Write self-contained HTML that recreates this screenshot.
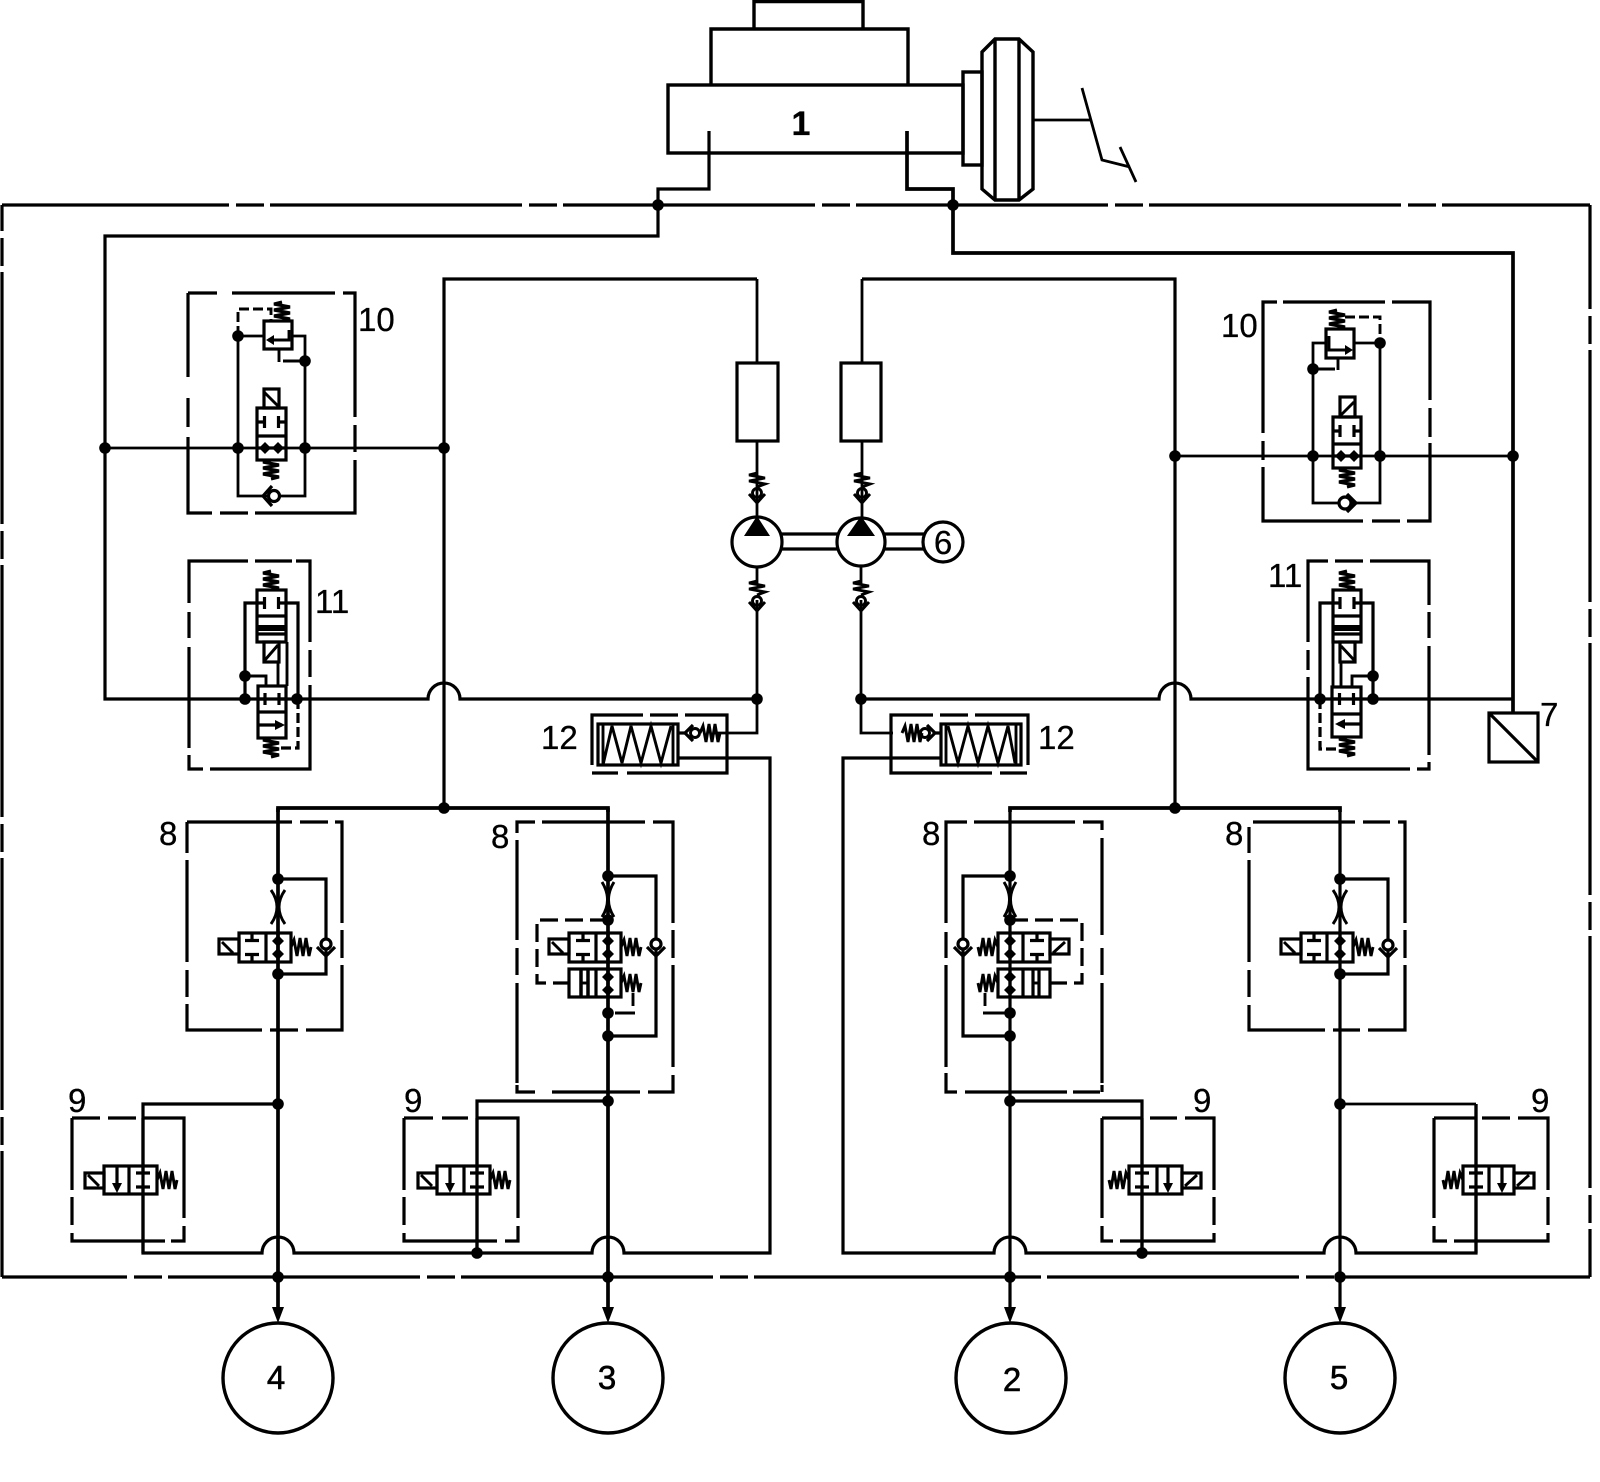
<!DOCTYPE html>
<html><head><meta charset="utf-8"><style>
html,body{margin:0;padding:0;background:#fff}
svg{display:block}
text{font-family:"Liberation Sans",sans-serif;font-size:33px;fill:#000;stroke:#000;stroke-width:.3}
.l{fill:none;stroke:#000;stroke-width:3.2;stroke-linejoin:miter}
.m{fill:none;stroke:#000;stroke-width:3.7}
.t{fill:none;stroke:#000;stroke-width:2.8}
.s{fill:none;stroke:#000;stroke-width:2.9}
.w{fill:#fff;stroke:#000;stroke-width:3.2}
.b{fill:none;stroke:#000;stroke-width:3.4}
.k{fill:#000;stroke:none}
</style></head><body>
<svg width="1600" height="1482" viewBox="0 0 1600 1482" xmlns="http://www.w3.org/2000/svg">
<defs>
<circle id="n" r="5.8" fill="#000"/>
<path id="sh" class="s" d="M0,0 L3,-7 L6,9 L9,-9 L12,9 L15,-9 L18,9 L20,0"/>
<path id="sv" class="l" d="M0,0 L-8,2 L8,5 L-8,8 L8,11 L-8,14 L8,17 L0,19"/>
<path id="tt" class="l" d="M-14,0 H-7 M-7,-6 V6 M14,0 H7 M7,-6 V6"/>
<path id="cap" class="l" d="M-7,-7 H7 M-7,7 H7 M0,-14 V-7 M0,7 V14"/>
<polygon id="dm" class="k" points="-6,0 0,-6 6,0 0,6"/>
<g id="pc"><path class="s" d="M0,-20 L-8,-18 L8,-15 L-8,-12 L8,-9 L0,-6"/><circle class="s" cx="0" cy="0" r="4.5" fill="#fff"/><path class="s" d="M-8,1 L0,10 L8,1"/></g>
<g id="ck"><circle class="l" cx="0" cy="-3" r="5.5"/><path class="l" d="M-9,0 L0,9 L9,0"/></g>
</defs>

<!-- master cylinder -->
<g class="b">
<path class="b" d="M754,29 V1.5 H863 V29"/>
<path class="b" d="M711,85 V29 H908 V85"/>
<rect class="b" x="668" y="85" width="295" height="68"/>
<rect class="b" x="963" y="72" width="19" height="93"/>
<path class="b" d="M982,52 L995,39 H1019 L1033,52 V189 L1019,200 H995 L982,189 Z"/>
<path class="b" d="M995,39 V200 M1019,39 V200"/>
<path class="t" d="M1033,120 H1090"/>
<path class="t" d="M1082,88 L1102,160 L1130,167 M1120,147 L1136,182"/>
</g>
<text x="801" y="135" text-anchor="middle" font-weight="bold" style="font-size:34px">1</text>

<!-- outer dashed frame -->
<g class="l" stroke-dasharray="252 7 28 6">
<path d="M2,205 H1590" stroke-dashoffset="25"/>
<path d="M2,1277 H1590" stroke-dashoffset="127"/>
<path d="M2,205 V1277" stroke-dashoffset="226"/>
<path d="M1590,205 V1277" stroke-dashoffset="148"/>
</g>

<!-- main pipes -->
<path class="l" d="M709,131 V189 H658 V236 H105 V699 H428 A16,16 0 0 1 460,699 H757"/>
<path class="m" d="M907,131 V189 H953 V253 H1513 V713"/>
<path class="l" d="M861,699 H1159 A16,16 0 0 1 1191,699 H1513"/>
<path class="t" d="M757,600 V733 H713"/>
<path class="t" d="M861,600 V733 H893"/>
<path class="t" d="M757,279 V363 M757,441 V520 M757,566 V585"/>
<path class="t" d="M862,279 V363 M862,441 V520 M861,566 V585"/>
<path class="l" d="M757,279 H444 V808"/>
<path class="l" d="M862,279 H1175 V808"/>
<path class="m" d="M278,812 V808 H608 V812"/>
<path class="m" d="M1010,812 V808 H1340 V812"/>
<path class="t" d="M105,448 H444"/>
<path class="t" d="M1175,456 H1513"/>
<path class="m" d="M278,808 V1307"/>
<path class="m" d="M608,808 V1307"/>
<path class="l" d="M1010,808 V1307"/>
<path class="l" d="M1340,808 V1307"/>
<!-- return lines -->
<path class="l" d="M678,758 H770 V1253 H624 A16,16 0 0 0 592,1253 H294 A16,16 0 0 0 262,1253 H143 V1104 H278"/>
<path class="l" d="M477,1253 V1101 H608"/>
<path class="l" d="M941,758 H843 V1253 H994 A16,16 0 0 1 1026,1253 H1324 A16,16 0 0 1 1356,1253 H1476 V1104"/>
<path class="t" d="M1476,1104 H1340"/>
<path class="l" d="M1142,1253 V1101 H1010"/>

<!-- nodes on main -->
<use href="#n" x="658" y="205"/><use href="#n" x="953" y="205"/>
<use href="#n" x="105" y="448"/><use href="#n" x="444" y="448"/>
<use href="#n" x="1175" y="456"/><use href="#n" x="1513" y="456"/>
<use href="#n" x="757" y="699"/><use href="#n" x="861" y="699"/>
<use href="#n" x="444" y="808"/><use href="#n" x="1175" y="808"/>
<use href="#n" x="278" y="1104"/><use href="#n" x="608" y="1101"/><use href="#n" x="1010" y="1101"/><use href="#n" x="1340" y="1104"/>
<use href="#n" x="278" y="1277"/><use href="#n" x="608" y="1277"/><use href="#n" x="1010" y="1277"/><use href="#n" x="1340" y="1277"/>
<use href="#n" x="477" y="1253"/><use href="#n" x="1142" y="1253"/>

<!-- filters & pumps -->
<rect class="w" x="737" y="363" width="41" height="78"/>
<rect class="w" x="841" y="363" width="40" height="78"/>
<use href="#pc" x="757" y="493"/><use href="#pc" x="862" y="493"/>
<use href="#pc" x="757" y="601"/><use href="#pc" x="861" y="601"/>
<path class="l" d="M780,534 H838 M780,549 H838 M884,534 H924 M884,549 H924"/>
<circle class="w" cx="757" cy="542" r="25"/>
<circle class="w" cx="861" cy="542" r="24"/>
<circle class="w" cx="943" cy="542" r="20"/>
<polygon class="k" points="757,516 744,536 770,536"/>
<polygon class="k" points="861,516 847,536 875,536"/>
<text x="943" y="554" text-anchor="middle">6</text>

<!-- 10 left -->
<path class="l" d="M188,293 V377 M188,398 V427 M188,437 V513 H212 M220,513 H248 M255,513 H355 V460 M355,452 V425 M355,417 V293 H343 M335,293 H232 M217,293 H188"/>
<path class="t" d="M238,336 V496 H305 V336 H292 M238,336 H264"/>
<path class="s" d="M238,336 V309 H271 V321" stroke-dasharray="10 4"/>
<path class="s" d="M279,349 V362 M283,361 H305"/>
<use href="#sv" x="282" y="302"/>
<rect class="l" x="264" y="321" width="28" height="28" fill="#fff"/>
<path class="s" d="M289,330 V340 H268"/><polygon class="k" points="266,340 274,335 274,345"/>
<rect class="l" x="264" y="389" width="15" height="19" fill="#fff"/><path class="s" d="M264,392 L279,407"/>
<rect class="l" x="257" y="408" width="29" height="52" fill="#fff"/><path class="l" d="M257,436 H286 M257,448 H286"/>
<use href="#tt" x="271.5" y="422"/><use href="#dm" x="265" y="448"/><use href="#dm" x="278" y="448"/>
<use href="#sv" x="271" y="460"/>
<circle class="w" cx="274" cy="496" r="5.5"/><path class="l" d="M272,486 L263,496 L272,506"/>
<use href="#n" x="238" y="336"/><use href="#n" x="305" y="361"/><use href="#n" x="238" y="448"/><use href="#n" x="305" y="448"/>
<text x="358" y="331">10</text>

<!-- 10 right -->
<path class="l" d="M1263,433 V302 H1277 M1283,302 H1385 M1392,302 H1430 V400 M1430,408 V437 M1430,443 V521 H1407 M1400,521 H1372 M1363,521 H1263 V467 M1263,460 V441"/>
<path class="t" d="M1326,343 H1313 V503 H1380 V343 H1354"/>
<path class="s" d="M1345,317 H1380 V343" stroke-dasharray="10 4"/>
<path class="s" d="M1338,358 V370 M1313,369 H1335"/>
<use href="#sv" x="1337" y="310"/>
<rect class="l" x="1326" y="329" width="28" height="29" fill="#fff"/>
<path class="s" d="M1329,336 V350 H1350"/><polygon class="k" points="1353,350 1345,345 1345,355"/>
<rect class="l" x="1340" y="397" width="15" height="20" fill="#fff"/><path class="s" d="M1341,415 L1354,402"/>
<rect class="l" x="1333" y="417" width="28" height="51" fill="#fff"/><path class="l" d="M1333,444 H1361 M1333,456 H1361"/>
<use href="#tt" x="1347" y="431"/><use href="#dm" x="1341" y="456"/><use href="#dm" x="1354" y="456"/>
<use href="#sv" x="1347" y="468"/>
<circle class="w" cx="1345" cy="503" r="6"/><path class="l" d="M1347,494 L1356,503 L1347,512"/>
<use href="#n" x="1313" y="369"/><use href="#n" x="1380" y="343"/><use href="#n" x="1313" y="456"/><use href="#n" x="1380" y="456"/>
<text x="1221" y="337">10</text>

<!-- 11 left -->
<path class="l" d="M189,603 V561 H248 M255,561 H292 M296,561 H310 V642 M310,650 V677 M310,685 V769 H210 M203,769 H189 V755 M189,748 V647 M189,638 V612"/>
<path class="l" d="M257,603 H245 V699 M286,603 H298 V699"/>
<path class="l" d="M298,699 V748 H280" stroke-dasharray="10 4"/>
<path class="s" d="M245,676 H266 V686 M278,662 V686 M287,642 V686"/>
<use href="#sv" x="271" y="571"/>
<rect class="l" x="257" y="590" width="29" height="52" fill="#fff"/>
<path class="l" d="M257,616 H286 M257,634 H286"/><path d="M257,628 H286" stroke="#000" stroke-width="6"/>
<use href="#tt" x="271.5" y="603"/>
<rect class="l" x="264" y="642" width="15" height="20" fill="#fff"/><path class="s" d="M265,660 L278,645"/>
<rect class="l" x="258" y="686" width="28" height="52" fill="#fff"/><path class="l" d="M258,712 H286 M258,725 H282"/>
<polygon class="k" points="285,725 275,720 275,730"/>
<use href="#tt" x="272" y="699"/>
<use href="#sv" x="271" y="738"/>
<use href="#n" x="245" y="699"/><use href="#n" x="245" y="676"/><use href="#n" x="297" y="699"/>
<text x="315" y="613">11</text>

<!-- 11 right -->
<path class="l" d="M1308,642 V561 H1328 M1335,561 H1363 M1370,561 H1429 V605 M1429,612 V638 M1429,646 V755 M1429,762 V769 H1417 M1410,769 H1308 V677 M1308,670 V650"/>
<path class="l" d="M1333,603 H1320 V699 M1361,603 H1373 V699"/>
<path class="l" d="M1320,699 V749 H1336" stroke-dasharray="10 4"/>
<path class="s" d="M1373,676 H1352 V686 M1341,662 V686 M1333,642 V686"/>
<use href="#sv" x="1347" y="571"/>
<rect class="l" x="1333" y="590" width="28" height="52" fill="#fff"/>
<path class="l" d="M1333,616 H1361 M1333,634 H1361"/><path d="M1333,628 H1361" stroke="#000" stroke-width="6"/>
<use href="#tt" x="1347" y="603"/>
<rect class="l" x="1340" y="642" width="15" height="20" fill="#fff"/><path class="s" d="M1341,646 L1354,660"/>
<rect class="l" x="1332" y="687" width="29" height="50" fill="#fff"/><path class="l" d="M1332,714 H1361 M1338,724 H1361"/>
<polygon class="k" points="1335,724 1345,719 1345,729"/>
<use href="#tt" x="1346.5" y="699"/>
<use href="#sv" x="1347" y="737"/>
<use href="#n" x="1320" y="699"/><use href="#n" x="1373" y="699"/><use href="#n" x="1373" y="676"/>
<text x="1268" y="587">11</text>

<!-- 7 -->
<rect class="l" x="1489" y="713" width="49" height="49" fill="#fff"/><path class="l" d="M1489,713 L1538,762"/>
<text x="1540" y="726">7</text>

<!-- 12 left -->
<path class="l" d="M592,765 V715 H643 M650,715 H678 M685,715 H727 V773 H627 M618,773 H592"/>
<rect class="l" x="598" y="724" width="80" height="41" fill="#fff"/>
<path class="s" d="M603,724 V765 M673,724 V765 M603,765 L612,726 L622,763 L631,726 L641,763 L651,726 L661,763 L671,726"/>
<path class="l" d="M678,733 H685"/>
<circle class="s" cx="695" cy="733" r="4.5"/><path class="l" d="M693,725 L685,733 L693,741"/>
<use href="#sh" x="700" y="733"/>
<path class="l" d="M678,758 H680"/>
<text x="541" y="749">12</text>

<!-- 12 right -->
<path class="l" d="M1028,765 V715 H975 M968,715 H940 M933,715 H891 V773 H992 M1000,773 H1027"/>
<rect class="l" x="941" y="724" width="80" height="41" fill="#fff"/>
<path class="s" d="M946,724 V765 M1016,724 V765 M948,726 L958,763 L968,726 L978,763 L988,726 L998,763 L1008,726 L1015,763"/>
<use href="#sh" x="902" y="733"/>
<circle class="s" cx="925" cy="733" r="4.5"/><path class="l" d="M927,725 L935,733 L927,741 M935,733 H941"/>
<text x="1038" y="749">12</text>

<!-- 8 A -->
<path class="l" d="M187,822 H292 M300,822 H328 M335,822 H342 V923 M342,930 V958 M342,965 V1030 H306 M298,1030 H270 M262,1030 H187 V1004 M187,997 V970 M187,962 V860 M187,853 V822"/>
<path class="l" d="M278,879 H326 V974 H278"/>
<path class="s" d="M271,890 Q283,907 271,924 M285,890 Q273,907 285,924"/>
<rect class="l" x="239" y="933" width="52" height="29" fill="#fff"/><path class="l" d="M266,933 V962 M278,933 V962"/>
<rect class="l" x="219" y="939" width="20" height="15" fill="#fff"/><path class="s" d="M222,942 L233,953"/>
<use href="#cap" x="252" y="947.5"/><use href="#dm" x="278" y="941"/><use href="#dm" x="278" y="954"/>
<use href="#sh" x="291" y="947"/>
<circle class="w" cx="326" cy="944" r="5"/><path class="l" d="M317,947 L326,956 L335,947"/>
<use href="#n" x="278" y="879"/><use href="#n" x="278" y="974"/>
<text x="159" y="845">8</text>

<!-- 8 B -->
<path class="l" d="M517,833 V822 H535 M542,822 H645 M653,822 H673 V923 M673,930 V958 M673,965 V1067 M673,1075 V1092 H648 M640,1092 H552 M535,1092 H517 V1085 M517,1083 V983 M517,975 V948 M517,940 V840"/>
<path class="l" d="M608,876 H656 V1036 H608"/>
<path class="s" d="M602,882 Q613,900 602,917 M614,882 Q603,900 614,917"/>
<path class="l" d="M608,920 H537 V983 H569" stroke-dasharray="18 7"/>
<rect class="l" x="569" y="933" width="52" height="29" fill="#fff"/><path class="l" d="M596,933 V962 M608,933 V962"/>
<rect class="l" x="549" y="939" width="20" height="15" fill="#fff"/><path class="s" d="M552,942 L563,953"/>
<use href="#cap" x="583" y="947.5"/><use href="#dm" x="608" y="941"/><use href="#dm" x="608" y="954"/>
<use href="#sh" x="621" y="947"/>
<rect class="l" x="569" y="969" width="52" height="28" fill="#fff"/><path class="l" d="M596,969 V997 M608,969 V997"/>
<path d="M581,969 V997 M588,969 V997" stroke="#000" stroke-width="3.5"/><path class="s" d="M581,983 H588"/>
<use href="#dm" x="608" y="977"/><use href="#dm" x="608" y="990"/>
<use href="#sh" x="621" y="983"/>
<path class="s" d="M633,993 V1006 M615,1013 H635"/>
<circle class="w" cx="656" cy="944" r="5"/><path class="l" d="M647,947 L656,956 L665,947"/>
<use href="#n" x="608" y="876"/><use href="#n" x="608" y="920"/><use href="#n" x="608" y="1013"/><use href="#n" x="608" y="1036"/>
<text x="491" y="848">8</text>

<!-- 8 C -->
<path class="l" d="M967,822 H946 V923 M946,932 V958 M946,965 V1067 M946,1073 V1092 H957 M965,1092 H1067 M1073,1092 H1100 M1102,1092 V1085 M1102,1083 V983 M1102,975 V948 M1102,935 V838 M1102,830 V822 H1083 M1075,822 H974"/>
<path class="l" d="M1010,876 H963 V1036 H1010"/>
<path class="s" d="M1004,882 Q1015,900 1004,917 M1016,882 Q1005,900 1016,917"/>
<path class="l" d="M1010,920 H1082 V983 H1050" stroke-dasharray="18 7"/>
<rect class="l" x="998" y="933" width="52" height="29" fill="#fff"/><path class="l" d="M1023,933 V962 M1010,933 V962"/>
<rect class="l" x="1050" y="939" width="19" height="15" fill="#fff"/><path class="s" d="M1053,953 L1065,942"/>
<use href="#cap" x="1037" y="947.5"/><use href="#dm" x="1010" y="941"/><use href="#dm" x="1010" y="954"/>
<use href="#sh" transform="translate(998,947) scale(-1,1)"/>
<rect class="l" x="998" y="969" width="52" height="28" fill="#fff"/><path class="l" d="M1023,969 V997 M1010,969 V997 M1033,969 V997 M1039,969 V997"/>
<path class="s" d="M1033,983 H1039"/>
<use href="#dm" x="1010" y="977"/><use href="#dm" x="1010" y="990"/>
<use href="#sh" transform="translate(998,983) scale(-1,1)"/>
<path class="s" d="M985,993 V1006 M983,1013 H1005"/>
<circle class="w" cx="963" cy="944" r="5"/><path class="l" d="M954,947 L963,956 L972,947"/>
<use href="#n" x="1010" y="876"/><use href="#n" x="1010" y="920"/><use href="#n" x="1010" y="1013"/><use href="#n" x="1010" y="1036"/>
<text x="922" y="845">8</text>

<!-- 8 D -->
<path class="l" d="M1253,822 H1355 M1363,822 H1390 M1398,822 H1405 V923 M1405,930 V958 M1405,965 V1030 H1368 M1360,1030 H1333 M1325,1030 H1249 V1005 M1249,997 V970 M1249,962 V860 M1249,853 V827"/>
<path class="l" d="M1340,879 H1388 V974 H1340"/>
<path class="s" d="M1333,890 Q1345,907 1333,924 M1347,890 Q1335,907 1347,924"/>
<rect class="l" x="1301" y="933" width="52" height="29" fill="#fff"/><path class="l" d="M1327,933 V962 M1340,933 V962"/>
<rect class="l" x="1281" y="939" width="20" height="15" fill="#fff"/><path class="s" d="M1284,942 L1295,953"/>
<use href="#cap" x="1314" y="947.5"/><use href="#dm" x="1340" y="941"/><use href="#dm" x="1340" y="954"/>
<use href="#sh" x="1353" y="947"/>
<circle class="w" cx="1388" cy="945" r="5"/><path class="l" d="M1379,948 L1388,957 L1397,948"/>
<use href="#n" x="1340" y="879"/><use href="#n" x="1340" y="974"/>
<text x="1225" y="845">8</text>

<!-- 9 A -->
<path class="l" d="M72,1118 H100 M108,1118 H136 M143,1118 H184 V1218 M184,1226 V1241 H171 M165,1241 H72 V1233 M72,1225 V1197 M72,1190 V1118"/>
<rect class="l" x="104" y="1166" width="53" height="28" fill="#fff"/><path class="l" d="M129,1166 V1194 M117,1166 V1185"/>
<polygon class="k" points="112,1183 122,1183 117,1193"/>
<rect class="l" x="85" y="1173" width="19" height="15" fill="#fff"/><path class="s" d="M88,1175 L99,1186"/>
<use href="#cap" x="143" y="1180"/>
<use href="#sh" x="157" y="1180"/>
<text x="68" y="1112">9</text>

<!-- 9 B -->
<path class="l" d="M404,1118 H433 M442,1118 H468 M477,1118 H518 V1218 M518,1226 V1241 H505 M497,1241 H404 V1233 M404,1225 V1197 M404,1190 V1118"/>
<rect class="l" x="437" y="1166" width="53" height="28" fill="#fff"/><path class="l" d="M464,1166 V1194 M450,1166 V1185"/>
<polygon class="k" points="445,1183 455,1183 450,1193"/>
<rect class="l" x="418" y="1173" width="19" height="15" fill="#fff"/><path class="s" d="M421,1175 L432,1186"/>
<use href="#cap" x="477" y="1180"/>
<use href="#sh" x="490" y="1180"/>
<text x="404" y="1112">9</text>

<!-- 9 C -->
<path class="l" d="M1102,1118 H1143 M1150,1118 H1177 M1185,1118 H1214 V1190 M1214,1197 V1225 M1214,1233 V1241 H1120 M1113,1241 H1102 V1226 M1102,1218 V1118"/>
<rect class="l" x="1129" y="1166" width="53" height="28" fill="#fff"/><path class="l" d="M1157,1166 V1194 M1168,1166 V1185"/>
<polygon class="k" points="1163,1183 1173,1183 1168,1193"/>
<rect class="l" x="1182" y="1173" width="19" height="15" fill="#fff"/><path class="s" d="M1185,1186 L1197,1175"/>
<use href="#cap" x="1142" y="1180"/>
<use href="#sh" transform="translate(1129,1180) scale(-1,1)"/>
<text x="1193" y="1112">9</text>

<!-- 9 D -->
<path class="l" d="M1434,1118 H1477 M1482,1118 H1510 M1518,1118 H1548 V1190 M1548,1197 V1225 M1548,1233 V1241 H1454 M1447,1241 H1434 V1226 M1434,1218 V1118"/>
<rect class="l" x="1463" y="1166" width="51" height="28" fill="#fff"/><path class="l" d="M1489,1166 V1194 M1502,1166 V1185"/>
<polygon class="k" points="1497,1183 1507,1183 1502,1193"/>
<rect class="l" x="1514" y="1173" width="20" height="15" fill="#fff"/><path class="s" d="M1517,1186 L1529,1175"/>
<use href="#cap" x="1476" y="1180"/>
<use href="#sh" transform="translate(1463,1180) scale(-1,1)"/>
<text x="1531" y="1112">9</text>

<!-- lines through valves -->
<path class="l" d="M143,1118 V1166 M143,1194 V1253 M477,1118 V1166 M477,1194 V1253 M1142,1118 V1166 M1142,1194 V1253 M1476,1104 V1166 M1476,1194 V1253"/>

<!-- arrows & wheels -->
<polygon class="k" points="272,1307 284,1307 278,1323"/>
<polygon class="k" points="602,1307 614,1307 608,1323"/>
<polygon class="k" points="1004,1307 1016,1307 1010,1323"/>
<polygon class="k" points="1334,1307 1346,1307 1340,1323"/>
<circle class="b" cx="278" cy="1378" r="55"/>
<circle class="b" cx="608" cy="1378" r="55"/>
<circle class="b" cx="1011" cy="1378" r="55"/>
<circle class="b" cx="1340" cy="1378" r="55"/>
<text x="276" y="1389" text-anchor="middle" style="stroke-width:.6">4</text>
<text x="607" y="1389" text-anchor="middle" style="stroke-width:.6">3</text>
<text x="1012" y="1391" text-anchor="middle" style="stroke-width:.6">2</text>
<text x="1339" y="1389" text-anchor="middle" style="stroke-width:.6">5</text>
</svg>
</body></html>
